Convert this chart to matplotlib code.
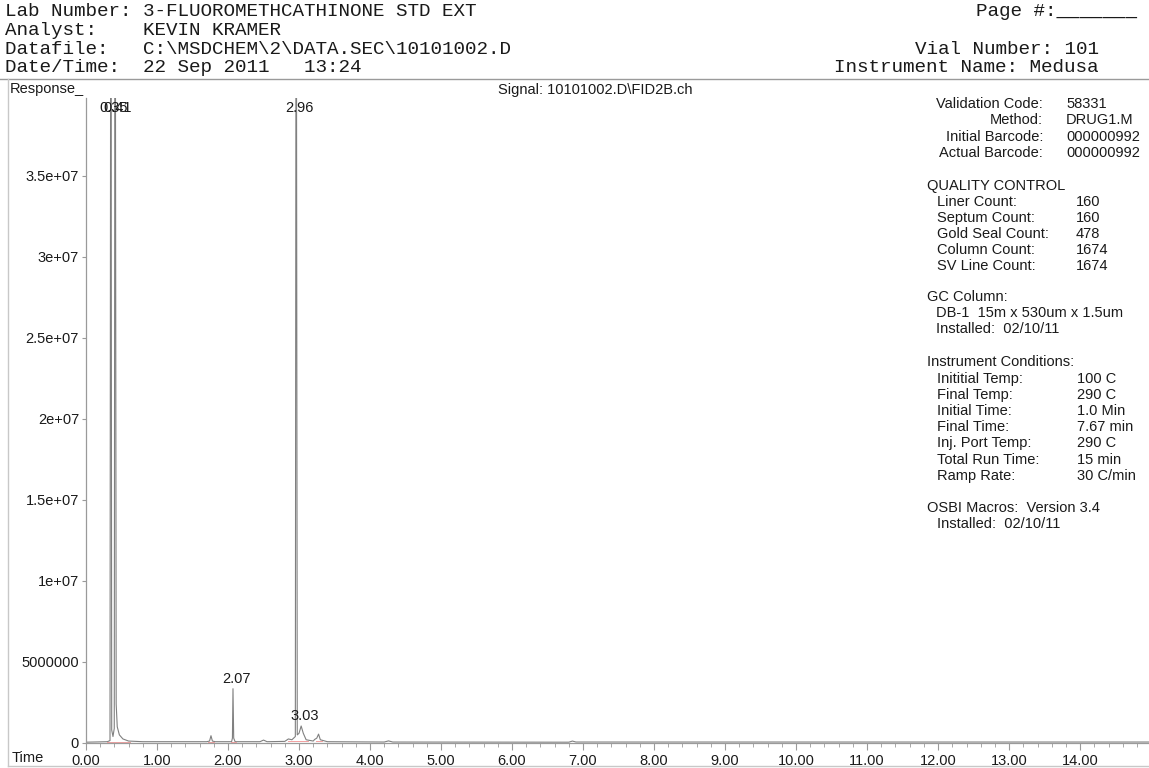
import matplotlib
matplotlib.use("Agg")
import matplotlib.pyplot as plt
from matplotlib.lines import Line2D
from matplotlib.ticker import MultipleLocator, FixedLocator, FixedFormatter

W, H = 1149, 768

# header block
header_left = ["Lab Number: 3-FLUOROMETHCATHINONE STD EXT",
               "Analyst:    KEVIN KRAMER",
               "Datafile:   C:\\MSDCHEM\\2\\DATA.SEC\\10101002.D",
               "Date/Time:  22 Sep 2011   13:24"]
header_right = ["Page #:_______", "", "Vial Number: 101", "Instrument Name: Medusa"]
signal_name = "Signal: 10101002.D\\FID2B.ch"

# trace (time in min, response in counts)
trace_time = [0.00, 0.30, 0.338, 0.350, 0.362, 0.38, 0.398, 0.410, 0.425, 0.44, 0.47,
              0.52, 0.60, 0.80, 1.70, 1.74, 1.76, 1.78, 1.82, 2.05, 2.062, 2.070,
              2.080, 2.10, 2.45, 2.50, 2.55, 2.80, 2.85, 2.90, 2.948, 2.960, 2.975,
              3.00, 3.03, 3.06, 3.10, 3.20, 3.22, 3.25, 3.275, 3.30, 3.40, 4.20,
              4.26, 4.32, 6.80, 6.85, 6.90, 14.97]
trace_resp = [0.05e6, 0.08e6, 0.15e6, 60e6, 0.8e6, 0.4e6, 0.9e6, 60e6, 2.4e6, 1.0e6, 0.5e6,
              0.25e6, 0.12e6, 0.08e6, 0.08e6, 0.12e6, 0.45e6, 0.12e6, 0.08e6, 0.08e6, 0.3e6, 3.35e6,
              0.3e6, 0.08e6, 0.08e6, 0.18e6, 0.08e6, 0.1e6, 0.25e6, 0.2e6, 0.4e6, 60e6, 0.5e6,
              0.6e6, 1.05e6, 0.6e6, 0.2e6, 0.12e6, 0.22e6, 0.3e6, 0.55e6, 0.2e6, 0.08e6, 0.06e6,
              0.13e6, 0.06e6, 0.05e6, 0.12e6, 0.06e6, 0.06e6]

# integration baselines
bl_start = [0.30, 1.72, 2.04, 2.84, 3.24]
bl_end = [0.62, 1.80, 2.11, 3.12, 3.32]
bl_level = [0.08e6, 0.08e6, 0.08e6, 0.1e6, 0.1e6]

# labelled peaks
peak_time = [0.35, 0.41, 2.07, 2.96, 3.03]
peak_height = [60e6, 60e6, 3.35e6, 60e6, 1.05e6]
peak_text = ["0.35", "0.41", "2.07", "2.96", "3.03"]

yticks = [0, 5e6, 1e7, 1.5e7, 2e7, 2.5e7, 3e7, 3.5e7]
ytick_labels = ["0", "5000000", "1e+07", "1.5e+07", "2e+07", "2.5e+07", "3e+07", "3.5e+07"]
xticks = [0, 1, 2, 3, 4, 5, 6, 7, 8, 9, 10, 11, 12, 13, 14]

# side panel
info_labels = ["Validation Code:", "Method:", "Initial Barcode:", "Actual Barcode:"]
info_values = ["58331", "DRUG1.M", "000000992", "000000992"]
qc_labels = ["Liner Count:", "Septum Count:", "Gold Seal Count:", "Column Count:", "SV Line Count:"]
qc_values = ["160", "160", "478", "1674", "1674"]
gc_lines = ["DB-1  15m x 530um x 1.5um", "Installed:  02/10/11"]
cond_labels = ["Inititial Temp:", "Final Temp:", "Initial Time:", "Final Time:",
               "Inj. Port Temp:", "Total Run Time:", "Ramp Rate:"]
cond_values = ["100 C", "290 C", "1.0 Min", "7.67 min", "290 C", "15 min", "30 C/min"]
osbi_lines = ["OSBI Macros:  Version 3.4", "Installed:  02/10/11"]


def fx(x):
    return x / W


def fy(y):
    return 1 - y / H


plt.rcParams['font.family'] = ['Liberation Sans', 'DejaVu Sans']
fig = plt.figure(figsize=(W / 100, H / 100), dpi=100)

mono = dict(family='Liberation Mono', fontsize=13.9, color='#1a1a1a', va='center')
for i, s in enumerate(header_left):
    fig.text(fx(5), fy(12 + 18.5 * i), s, ha='left', **mono)
for i, s in enumerate(header_right):
    if s:
        fig.text(fx(1137 if i == 0 else 1099), fy(12 + 18.5 * i), s, ha='right', **mono)

# frame around the chart area
gray = '#9a9a9a'
fig.add_artist(Line2D([fx(0), fx(W)], [fy(79), fy(79)], color=gray, lw=1))
fig.add_artist(Line2D([fx(8), fx(8)], [fy(79), fy(766)], color='#c8c8c8', lw=1))
fig.add_artist(Line2D([fx(8), fx(W)], [fy(766), fy(766)], color='#c8c8c8', lw=1))

fig.text(fx(10), fy(89), "Response_", fontsize=10.5, color='#1a1a1a', ha='left', va='center')
fig.text(fx(595), fy(90), signal_name, fontsize=10.5, color='#1a1a1a', ha='center', va='center')
fig.text(fx(12), fy(758), "Time", fontsize=10.5, color='#1a1a1a', ha='left', va='center')

ax = fig.add_axes([fx(86), fy(743), fx(W) - fx(86), fy(98) - fy(743)])
ax.plot(trace_time, trace_resp, color='#808080', lw=0.8)
for s, e, lv in zip(bl_start, bl_end, bl_level):
    ax.plot([s, e], [lv, lv], color='#f2a0a0', lw=0.7)

ax.set_xlim(0, 14.97)
ax.set_ylim(0, 3.98e7)
for t, h, s in zip(peak_time, peak_height, peak_text):
    if h > 3.98e7:
        ax.annotate(s, (t, 1), xycoords=('data', 'axes fraction'), xytext=(3, -3),
                    textcoords='offset pixels', ha='center', va='top', fontsize=10.5,
                    color='#1a1a1a', annotation_clip=False)
    else:
        ax.annotate(s, (t, h), xytext=(4, 3), textcoords='offset pixels',
                    ha='center', va='bottom', fontsize=10.5, color='#1a1a1a')

for side in ['top', 'right']:
    ax.spines[side].set_visible(False)
for side in ['left', 'bottom']:
    ax.spines[side].set_color(gray)
    ax.spines[side].set_linewidth(0.9)

ax.yaxis.set_major_locator(FixedLocator(yticks))
ax.yaxis.set_major_formatter(FixedFormatter(ytick_labels))
ax.xaxis.set_major_locator(FixedLocator(xticks))
ax.xaxis.set_major_formatter(FixedFormatter(["%.2f" % v for v in xticks]))
ax.xaxis.set_minor_locator(MultipleLocator(0.2))
ax.tick_params(axis='both', which='both', direction='out', color=gray, labelsize=10.5,
               labelcolor='#1a1a1a')
ax.tick_params(axis='y', length=3, pad=2)
ax.tick_params(axis='x', which='major', length=5, pad=3)
ax.tick_params(axis='x', which='minor', length=3)

side = dict(fontsize=10.5, color='#1a1a1a', va='center')
for i, (l, v) in enumerate(zip(info_labels, info_values)):
    y = fy(104 + 16.3 * i)
    fig.text(fx(1043), y, l, ha='right', **side)
    fig.text(fx(1066), y, v, ha='left', **side)

fig.text(fx(927), fy(186), "QUALITY CONTROL", ha='left', **side)
for i, (l, v) in enumerate(zip(qc_labels, qc_values)):
    y = fy(202 + 16 * i)
    fig.text(fx(937), y, l, ha='left', **side)
    fig.text(fx(1076), y, v, ha='left', **side)

fig.text(fx(927), fy(297), "GC Column:", ha='left', **side)
for i, s in enumerate(gc_lines):
    fig.text(fx(936), fy(313 + 16 * i), s, ha='left', **side)

fig.text(fx(927), fy(362), "Instrument Conditions:", ha='left', **side)
for i, (l, v) in enumerate(zip(cond_labels, cond_values)):
    y = fy(379 + 16.1 * i)
    fig.text(fx(937), y, l, ha='left', **side)
    fig.text(fx(1077), y, v, ha='left', **side)

fig.text(fx(927), fy(508), osbi_lines[0], ha='left', **side)
fig.text(fx(937), fy(524), osbi_lines[1], ha='left', **side)

fig.savefig("out.png", dpi=100)
